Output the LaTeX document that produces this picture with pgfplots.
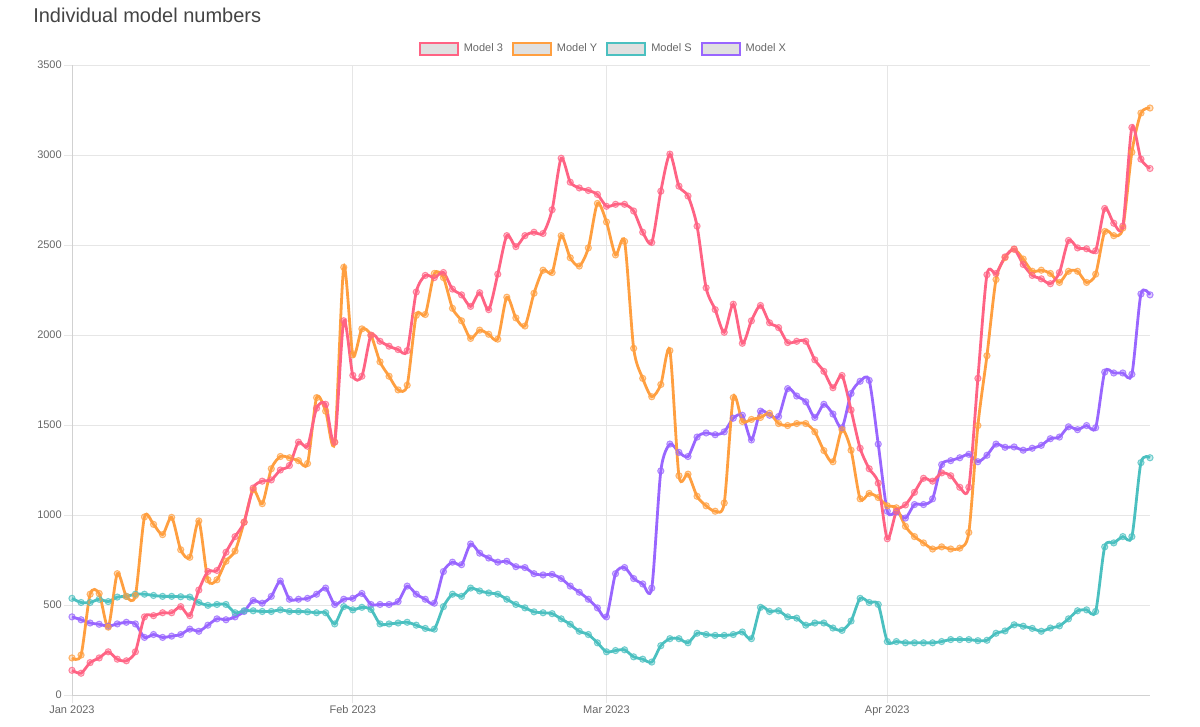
\documentclass[border=0pt]{standalone}
\usepackage{fontspec}
\setmainfont{Liberation Sans}
\usepackage{pgfplots}
\pgfplotsset{compat=1.18}
\usepackage{pgfplotstable}
\definecolor{cA}{RGB}{255,99,132}
\definecolor{cY}{RGB}{255,159,64}
\definecolor{cS}{RGB}{75,192,192}
\definecolor{cX}{RGB}{153,102,255}
\definecolor{tickgray}{HTML}{666666}
\definecolor{titlegray}{HTML}{444444}
\definecolor{gridgray}{HTML}{E6E6E6}

\pgfplotstableread{
d m3 my ms mx
0 137 206 537 434
1 121 222 514 418
2 180 560 514 400
3 206 564 532 393
4 240 377 519 382
5 199 674 544 395
6 190 548 548 404
7 240 553 560 395
8 434 989 560 320
9 441 948 553 336
10 457 891 548 320
11 457 987 548 327
12 491 807 546 336
13 441 765 544 366
14 583 967 514 354
15 686 640 498 388
16 692 640 503 423
17 793 743 503 418
18 880 800 457 434
19 960 960 468 464
20 1150 1140 468 525
21 1188 1063 464 510
22 1195 1257 464 548
23 1250 1325 473 633
24 1275 1318 464 532
25 1405 1302 464 532
26 1382 1286 462 537
27 1593 1652 457 560
28 1615 1577 457 594
29 1405 1405 395 503
30 2079 2376 491 532
31 1776 1890 473 537
32 1771 2034 487 564
33 1999 1999 475 503
34 1965 1851 395 503
35 1938 1771 395 503
36 1919 1695 400 519
37 1913 1721 404 605
38 2239 2109 388 560
39 2331 2114 370 532
40 2319 2342 366 510
41 2347 2319 491 686
42 2255 2148 560 738
43 2223 2079 548 724
44 2159 1981 594 839
45 2235 2027 578 788
46 2141 2004 567 761
47 2338 1977 560 738
48 2552 2210 532 743
49 2491 2095 503 713
50 2552 2050 484 708
51 2571 2232 462 674
52 2564 2360 457 667
53 2696 2347 452 670
54 2982 2552 423 647
55 2849 2429 393 605
56 2817 2383 354 571
57 2803 2484 336 532
58 2781 2731 290 484
59 2715 2628 240 434
60 2726 2445 247 674
61 2726 2520 251 708
62 2689 1926 212 647
63 2571 1759 199 617
64 2514 1657 183 594
65 2799 1725 274 1245
66 3005 1913 313 1394
67 2827 1218 313 1348
68 2772 1227 290 1325
69 2605 1104 343 1433
70 2262 1051 336 1456
71 2141 1021 331 1446
72 2015 1067 331 1462
73 2171 1652 336 1538
74 1954 1520 350 1554
75 2079 1531 313 1417
76 2164 1542 487 1577
77 2068 1565 464 1554
78 2041 1508 468 1547
79 1958 1497 434 1702
80 1965 1508 427 1661
81 1965 1508 388 1629
82 1862 1462 400 1542
83 1798 1358 400 1615
84 1707 1296 372 1561
85 1775 1474 359 1485
86 1583 1360 411 1675
87 1371 1090 537 1743
88 1257 1120 514 1748
89 1177 1097 503 1394
90 868 1051 297 1021
91 1021 1040 297 1017
92 1056 937 290 983
93 1126 880 290 1058
94 1204 845 290 1058
95 1188 811 290 1090
96 1234 823 297 1280
97 1218 811 308 1302
98 1154 816 308 1318
99 1154 903 308 1337
100 1759 1497 302 1296
101 2335 1885 304 1332
102 2342 2308 343 1394
103 2434 2430 356 1376
104 2477 2477 390 1378
105 2392 2422 382 1360
106 2331 2354 370 1371
107 2312 2360 354 1387
108 2285 2342 372 1424
109 2347 2292 384 1433
110 2525 2354 423 1490
111 2484 2354 468 1474
112 2479 2292 473 1497
113 2468 2338 464 1485
114 2703 2575 823 1794
115 2621 2552 845 1789
116 2605 2594 880 1789
117 3153 3016 880 1782
118 2977 3233 1291 2228
119 2925 3261 1318 2223
}\data

\pgfplotsset{
  series/.style={smooth, tension=0.45, line width=2.1pt, color=#1,
    mark=*, mark size=2.3pt,
    mark options={solid, fill=#1, fill opacity=0.3, draw=#1, draw opacity=0.75, line width=0.8pt}},
}

\begin{document}
\begin{tikzpicture}
\useasboundingbox (0,0) rectangle (900pt,544.5pt);
\node[anchor=base west, inner sep=0pt, text=titlegray, font=\fontsize{15pt}{18pt}\selectfont] at (24.75pt,527.5pt) {Individual model numbers};
\begin{axis}[
  scale only axis,
  width=808.5pt, height=472.5pt,
  at={(54pt,23.25pt)}, anchor=south west,
  xmin=0, xmax=119, ymin=0, ymax=3500,
  xtick={0,31,59,90},
  xticklabels={Jan 2023,Feb 2023,Mar 2023,Apr 2023},
  ytick={0,500,...,3500},
  axis lines=left,
  axis line style={-, draw=black!18, line width=0.75pt},
  grid=major,
  major grid style={draw=gridgray, line width=0.75pt},
  tick align=outside,
  major tick length=6pt,
  tick style={draw=gridgray, line width=0.75pt},
  ticklabel style={font=\fontsize{8.25pt}{10pt}\selectfont, text=tickgray},
  /pgf/number format/assume math mode=true,
  /pgf/number format/set thousands separator={},
  yticklabel style={inner sep=1.5pt},
  xticklabel style={inner sep=1.5pt, text height=6.2pt, text depth=1.5pt},
  clip=false,
  reverse legend,
  legend columns=4,
  legend style={at={(0.492,1)}, anchor=center, yshift=12pt, draw=none, fill=none,
    inner sep=0pt, font=\fontsize{8.25pt}{10pt}\selectfont, text=tickgray,
    nodes={inner sep=0pt},
    /tikz/every odd column/.style={column sep=3.75pt},
    /tikz/every even column/.style={column sep=6.75pt}},
  legend image code/.code={\draw[line width=1.5pt, fill=black!12, fill opacity=1, draw opacity=1] (0pt,-4.5pt) rectangle (28.5pt,4.5pt);},
]
\addplot[series=cX] table[x=d, y=mx] {\data};
\addlegendentry{Model X}
\addplot[series=cS] table[x=d, y=ms] {\data};
\addlegendentry{Model S}
\addplot[series=cY] table[x=d, y=my] {\data};
\addlegendentry{Model Y}
\addplot[series=cA] table[x=d, y=m3] {\data};
\addlegendentry{Model 3}
\end{axis}
\end{tikzpicture}
\end{document}
